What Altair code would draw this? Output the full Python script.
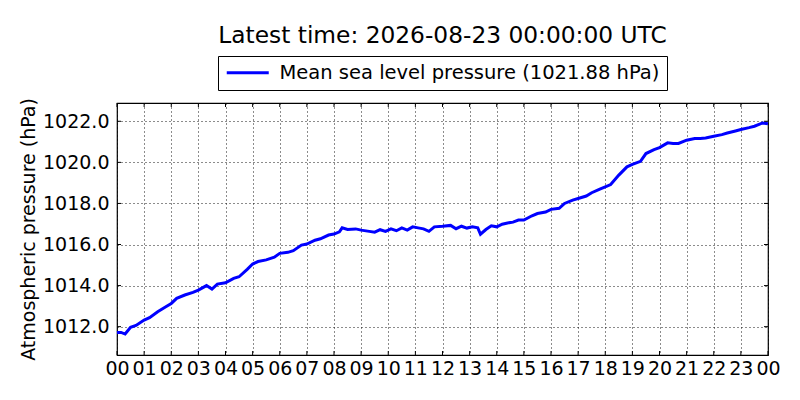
import altair as alt
import pandas as pd

TITLE = ["Latest time: 2026-08-23 00:00:00 UTC"]
SERIES = "Mean sea level pressure (1021.88 hPa)"
Y_TITLE = "Atmospheric pressure (hPa)"

hours = [0.0, 0.15, 0.3, 0.5, 0.7, 1.0, 1.2, 1.5, 1.8, 2.0, 2.2, 2.5, 2.8, 3.0,
         3.3, 3.5, 3.7, 4.0, 4.3, 4.5, 4.8, 5.0, 5.2, 5.5, 5.8, 6.0, 6.3, 6.5,
         6.8, 7.0, 7.3, 7.5, 7.8, 8.0, 8.2, 8.3, 8.5, 8.8, 9.0, 9.3, 9.5, 9.7,
         9.9, 10.1, 10.3, 10.5, 10.7, 10.9, 11.1, 11.3, 11.5, 11.7, 12.0, 12.3,
         12.5, 12.7, 12.9, 13.1, 13.3, 13.4, 13.6, 13.8, 14.0, 14.2, 14.4, 14.6,
         14.8, 15.0, 15.3, 15.5, 15.8, 16.0, 16.3, 16.5, 16.8, 17.0, 17.3, 17.5,
         17.8, 18.0, 18.2, 18.5, 18.8, 19.0, 19.3, 19.5, 19.8, 20.0, 20.3, 20.5,
         20.7, 21.0, 21.3, 21.5, 21.7, 22.0, 22.3, 22.5, 22.8, 23.0, 23.3, 23.5,
         23.8, 24.0]
pressure = [1011.71, 1011.72, 1011.64, 1011.97, 1012.06, 1012.32, 1012.44, 1012.73,
            1012.97, 1013.13, 1013.38, 1013.54, 1013.67, 1013.78, 1014.00, 1013.83,
            1014.07, 1014.14, 1014.35, 1014.43, 1014.79, 1015.05, 1015.17, 1015.25,
            1015.38, 1015.57, 1015.62, 1015.70, 1015.97, 1016.02, 1016.21, 1016.28,
            1016.46, 1016.51, 1016.62, 1016.81, 1016.73, 1016.76, 1016.70, 1016.64,
            1016.60, 1016.72, 1016.64, 1016.76, 1016.67, 1016.81, 1016.70, 1016.86,
            1016.81, 1016.76, 1016.64, 1016.86, 1016.89, 1016.93, 1016.77, 1016.89,
            1016.80, 1016.86, 1016.81, 1016.50, 1016.73, 1016.91, 1016.86, 1016.99,
            1017.05, 1017.09, 1017.19, 1017.19, 1017.40, 1017.51, 1017.58, 1017.71,
            1017.76, 1018.00, 1018.16, 1018.24, 1018.36, 1018.52, 1018.70, 1018.81,
            1018.92, 1019.38, 1019.78, 1019.90, 1020.05, 1020.43, 1020.62, 1020.72,
            1020.95, 1020.92, 1020.92, 1021.08, 1021.16, 1021.16, 1021.19, 1021.27,
            1021.35, 1021.43, 1021.53, 1021.60, 1021.69, 1021.76, 1021.92, 1021.88]

x_ticks = list(range(25))
y_ticks = [1012, 1014, 1016, 1018, 1020, 1022]

W, H = 651, 252
FONT = "DejaVu Sans"

df = pd.DataFrame({"hour": hours, "pressure": pressure, "series": SERIES})
df_xt = pd.DataFrame({"hour": x_ticks})
df_yt = pd.DataFrame({"pressure": y_ticks})
df_title = pd.DataFrame({"t": TITLE})

xscale = alt.Scale(domain=[0, 24], nice=False, zero=False)
yscale = alt.Scale(domain=[1010.62, 1022.89], nice=False, zero=False)

xaxis = alt.Axis(values=x_ticks, labelExpr="format(datum.value % 24, '02d')",
                 labelFlush=False, labelOverlap=False, labelPadding=4, labelBound=False)
yaxis = alt.Axis(values=y_ticks, format=".1f", labelPadding=8, titlePadding=4,
                 labelOverlap=False)

X = alt.X("hour:Q", scale=xscale, title=None, axis=xaxis)
Y = alt.Y("pressure:Q", scale=yscale, title=Y_TITLE, axis=yaxis)

line = alt.Chart(df).mark_line(strokeWidth=3, interpolate="linear").encode(
    x=X, y=Y,
    color=alt.Color("series:N", scale=alt.Scale(domain=[SERIES], range=["#0000ff"]),
                    legend=alt.Legend(title=None, orient="none", legendX=101, legendY=-47,
                                      strokeColor="black", fillColor="white", padding=7,
                                      symbolType="M -4.2 0 L 4.2 0", symbolSize=100,
                                      symbolOffset=13,
                                      symbolStrokeWidth=3, labelOffset=22,
                                      labelFontSize=19.5, labelFont=FONT, labelLimit=0,
                                      labelColor="black", cornerRadius=0)),
)

tick_b = alt.Chart(df_xt).mark_rule(color="black", strokeWidth=1).encode(
    x=X, y=alt.value(H), y2=alt.value(H - 4))
tick_t = alt.Chart(df_xt).mark_rule(color="black", strokeWidth=1).encode(
    x=X, y=alt.value(0), y2=alt.value(4))
tick_l = alt.Chart(df_yt).mark_rule(color="black", strokeWidth=1).encode(
    y=Y, x=alt.value(0), x2=alt.value(4))
tick_r = alt.Chart(df_yt).mark_rule(color="black", strokeWidth=1).encode(
    y=Y, x=alt.value(W), x2=alt.value(W - 4))

title = alt.Chart(df_title).mark_text(fontSize=23.3, font=FONT, color="black",
                                      align="center", baseline="alphabetic").encode(
    text="t:N", x=alt.value(W / 2), y=alt.value(-60))

chart = alt.layer(line, tick_b, tick_t, tick_l, tick_r, title).properties(
    width=W, height=H,
    autosize=alt.AutoSizeParams(type="none"),
    padding={"left": 109, "top": 95, "right": 24, "bottom": 37},
).configure_view(stroke="black", strokeWidth=1.2).configure_axis(
    domain=False, ticks=False, grid=True, gridColor="black", gridDash=[1, 3],
    gridWidth=1, gridOpacity=0.9, labelFont=FONT, labelFontSize=19, labelColor="black",
    titleFont=FONT, titleFontSize=19, titleFontWeight="normal", titleColor="black",
)

chart.save("out.html", embed_options={"renderer": "svg", "actions": False})
